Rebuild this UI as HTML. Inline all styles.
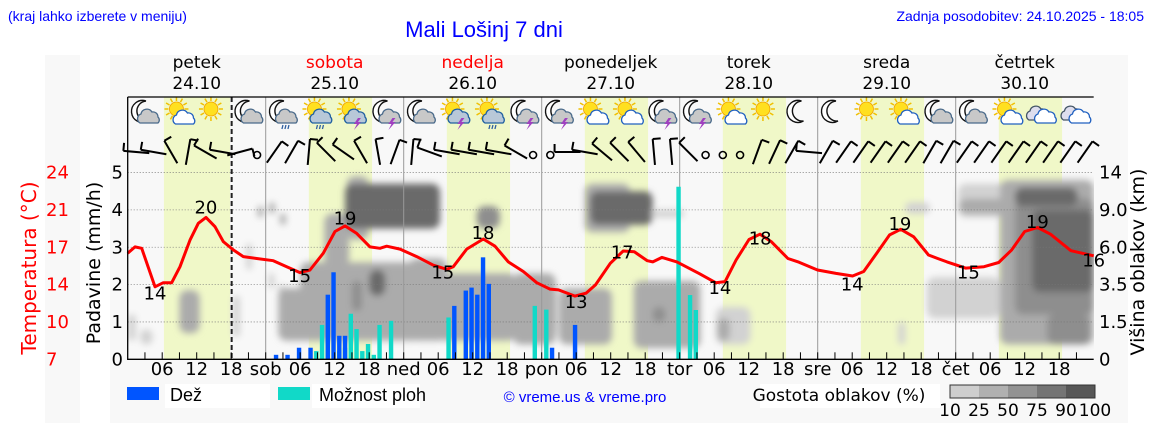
<!DOCTYPE html>
<html><head><meta charset="utf-8">
<style>
html,body{margin:0;padding:0;background:#fff;}
svg{display:block;}
.dv{font-family:"DejaVu Sans","Liberation Sans",sans-serif;}
.ls{font-family:"Liberation Sans",sans-serif;}
</style></head>
<body>
<svg id="chart" width="1152" height="443" viewBox="0 0 1152 443" xmlns="http://www.w3.org/2000/svg">
<defs>
<filter id="soft" x="-20%" y="-20%" width="140%" height="140%"><feGaussianBlur stdDeviation="3.5"/></filter>
<clipPath id="plotclip"><rect x="128" y="97" width="966" height="262"/></clipPath>
</defs>
<rect x="45" y="55" width="35" height="368" fill="#f8f8f8"/>
<rect x="110" y="55" width="1018" height="368" fill="#f8f8f8"/>
<text x="8" y="21" class="ls" font-size="14" fill="#0000ff">(kraj lahko izberete v meniju)</text>
<text x="484" y="37" class="ls" font-size="22" fill="#0000ff" text-anchor="middle">Mali Lošinj 7 dni</text>
<text x="1144" y="21" class="ls" font-size="14" fill="#0000ff" text-anchor="end">Zadnja posodobitev: 24.10.2025 - 18:05</text>
<g id="bg"></g>
<g id="clouds" clip-path="url(#plotclip)"><g id="cloudsInner" filter="url(#soft)"></g></g>
<g id="grid"></g>
<g id="bars"></g>
<g id="temp"></g>
<g id="icons"></g>
<g id="wind"></g>
<g id="axes"></g>
<g id="legend">
<rect x="127" y="387" width="32" height="13" fill="#0055ff"/>
<rect x="165" y="384" width="105" height="24" fill="#fff"/>
<text x="170" y="401" class="ls" font-size="18">Dež</text>
<rect x="278" y="387" width="32" height="13" fill="#11d9c8"/>
<rect x="312" y="384" width="108" height="24" fill="#fff"/>
<text x="319" y="401" class="ls" font-size="18">Možnost ploh</text>
<text x="585" y="402" class="ls" font-size="15" fill="#0000ff" text-anchor="middle">© vreme.us &amp; vreme.pro</text>
<rect x="760" y="384" width="180" height="24" fill="#fff"/>
<text x="839" y="401" class="dv" font-size="17" text-anchor="middle">Gostota oblakov (%)</text>
<g id="cbar"></g>
</g>
</svg>
<script>
const NS="http://www.w3.org/2000/svg";
// ---- data ----
const tempHours=[0,1.27,2.43,4.75,6.2,7.65,9.1,10.83,12.28,13.62,15.18,16.63,18.37,20.1,22.43,25.32,27.65,29.97,31.7,34.02,36.05,37.79,39.83,42.14,43.88,45.04,47.36,50.26,53.15,55.48,56.63,58.96,61.84,63.88,66.19,68.8,71.13,73.44,74.92,77.79,79.7,81.36,83.93,86.17,88.1,90.37,91.32,92.92,95.51,99.36,102.26,103.9,105.8,108.05,109.97,111.91,114.82,116.75,119.97,123.18,126.07,128,130.26,132.5,134.43,136.7,139.27,140.87,142.49,145.7,148.92,151.48,153.74,156,158.24,160.49,164.03,168];
const tempValues=[16.66,17.23,17.1,13.6,13.97,13.97,15.43,17.85,19.38,19.92,19.07,17.71,16.96,16.35,16.18,15.98,15.43,14.89,15.13,16.66,18.63,19.14,18.46,17.23,17.1,17.3,17.03,16.35,15.57,15.19,15.43,17.03,17.95,17.3,15.87,14.99,13.97,13.39,13.32,12.75,13.02,13.77,15.74,16.86,16.79,15.98,15.87,16.28,15.87,14.82,13.97,14.07,16.04,17.91,18.39,17.71,16.18,15.84,15.13,14.82,14.58,14.99,16.66,18.32,18.83,18.15,16.49,16.18,15.87,15.3,15.43,15.81,16.96,18.63,19.0,18.39,16.89,16.42];
const tempLabelText=["14","20","15","19","15","18","13","17","14","18","14","19","15","19","16"];
const tempLabelHours=[4.75,13.6,29.9,37.8,54.8,61.8,78,86,103,110,126,134.3,146.2,158.2,168];
const tempLabelPos=[13.0,20.8,14.6,19.8,14.9,18.5,12.2,16.7,13.5,18.0,13.8,19.3,14.9,19.5,16.0];
const rainHours=[26,28,30,32,35,36,37,38,57,59,60,61,62,63,74,78];
const rainValues=[0.12,0.12,0.31,0.31,1.73,2.33,0.63,0.63,1.43,1.84,1.92,1.73,2.73,2.02,0.31,0.92];
const showerHours=[33,34,35,37,38,39,40,41,42,43,44,46,56,71,73,96,98,99];
const showerValues=[0.22,0.92,0.52,0.22,0.31,1.22,0.81,0.22,0.41,0.12,0.92,1.03,1.12,1.43,1.33,4.62,1.72,1.32];
// cloud cells: start hour, end hour, low (axis units), high, density level
const cloudStart=[0,2.2,9,18.3,22.6,24.6,26.5,20.6,24.5,26.2,26.2,30,34.2,39,42,38.1,37.8,41.8,49,54,60.7,67,68.5,72.5,75,79.5,80.4,91,88,91.3,102.3,102.6,134,135.2,139,144.4,144.6,151.7,154.3,157.3,159.9,154.3];
const cloudEnd=[1.4,4.3,12.5,19.5,23.6,25.6,27.5,21.6,25.5,27.3,35.3,51,38.5,40.7,44.8,41.9,54.3,53.5,55.5,67.5,64.7,74.4,74.5,74.5,84.2,87.4,91.3,96.8,99.6,93.5,108.3,104.7,135.2,139.5,151.7,153.6,153.6,168,168,168,167.3,165.2];
const cloudLow=[0.5,0.4,0.7,0.6,3.8,3.9,3.6,2.4,1.9,1.7,0.5,0.5,2.5,1.3,1.7,3.2,3.5,4.0,0.5,0.5,3.5,0.4,0.6,0.6,0.4,3.4,3.6,3.8,0.3,1.0,0.4,0.5,0.4,3.9,1.1,3.8,3.9,0.4,1.2,1.8,0.4,4.1];
const cloudHigh=[1.2,0.8,1.85,1.7,4.1,4.2,3.9,3.1,2.3,2.0,1.9,2.6,3.9,2.1,2.4,4.9,4.7,4.6,2.7,2.3,4.1,2.3,2.2,1.9,1.9,4.7,4.5,4.0,2.1,1.4,1.4,1.1,1.0,4.2,2.2,4.7,4.3,4.8,4.3,4.0,1.2,4.6];
const cloudLevel=[1,1,2,1,2,2,2,1,1,1,2,2,2,3,4,2,4,4,2,2,3,2,2,2,2,2,4,1,2,3,1,2,1,1,1,1,2,2,3,4,3,4];
const iconTypes=["mc","sc","s","mc","mr","sr","st","mt","mc","st","sr","mt","mt","sc","sc","mt","mt","sc","s","m","m","s","sc","mc","mc","sc","c","c"];
const windAngles=[5,10,60,100,30,10,165,-1,125,120,95,45,35,60,80,110,95,20,10,10,10,10,30,-1,-1,0,10,40,45,50,85,85,45,-1,-1,-1,110,115,120,5,120,125,125,125,125,125,120,120,125,125,125,125,125,125,125,125];
const dayNames=["petek","sobota","nedelja","ponedeljek","torek","sreda","četrtek"];
const dayDates=["24.10","25.10","26.10","27.10","28.10","29.10","30.10"];
const dayShort=["","sob","ned","pon","tor","sre","čet"];
const rainTicks=[0,1,2,3,4,5];
const tempTickLabels=["7","10","14","17","21","24"];
const heightTickLabels=["0","1.5","3.5","6.0","9.0","14"];
const cbarLabels=["10","25","50","75","90","100"];
// ---- scales ----
const X0=127.7,HW=5.75,Y0=359.3,RU=37.35;
const X=h=>X0+h*HW;
const Y=r=>Y0-r*RU;
const TY=t=>Y((t-7)/3.4);
function el(tag,attrs,parent){const e=document.createElementNS(NS,tag);for(const k in attrs)e.setAttribute(k,attrs[k]);parent.appendChild(e);return e;}
function txt(parent,x,y,s,attrs){const e=el("text",Object.assign({x:x,y:y},attrs||{}),parent);e.textContent=s;return e;}
const bg=document.getElementById("bg");
let r0=el("rect",{x:X(0),y:97,width:X(168)-X(0),height:Y0-97,fill:"#f8f8f8"},bg);


for(let d=0;d<7;d++){
  const s=d===0?6.3:7.5, e=d===0?17.8:18.5;
  const b=el("rect",{x:X(d*24+s),y:97,width:(e-s)*HW,height:Y0-97,fill:"#f0f8c8"},bg);
  
  
}
// clouds
const cg=document.getElementById("cloudsInner");
const cloudColors=["","#d2d2d2","#ababab","#8e8e8e","#6a6a6a","#555555"];
for(let i=0;i<cloudStart.length;i++){
  const w=(cloudEnd[i]-cloudStart[i])*HW, h=(cloudHigh[i]-cloudLow[i])*RU;
  const c=el("rect",{x:X(cloudStart[i]),y:Y(cloudHigh[i]),width:w,height:h,rx:Math.min(8,w/2,h/2),fill:cloudColors[cloudLevel[i]]},cg);
  
  
}
// grid
const gg=document.getElementById("grid");
for(let r=1;r<=5;r++){
  const l=el("line",{x1:X(0),x2:X(168),y1:Y(r),y2:Y(r),stroke:"#777","stroke-width":0.8,"stroke-dasharray":"1,2"},gg);
  
  
}
for(let d=1;d<7;d++){
  const l=el("line",{x1:X(d*24),x2:X(d*24),y1:97,y2:Y0,stroke:"#999","stroke-width":1},gg);
  
  
}
const nowL=el("line",{x1:X(18.08),x2:X(18.08),y1:97,y2:Y0,stroke:"#222","stroke-width":2,"stroke-dasharray":"5,3"},gg);


// bars
const bgp=document.getElementById("bars");
for(let i=0;i<showerHours.length;i++){
  const b=el("rect",{x:X(showerHours[i]-0.2)-2.2,y:Y(showerValues[i]),width:4.4,height:showerValues[i]*RU,fill:"#11d9c8"},bgp);
  
  
}
for(let i=0;i<rainHours.length;i++){
  const b=el("rect",{x:X(rainHours[i]-0.2)-2.2,y:Y(rainValues[i]),width:4.4,height:rainValues[i]*RU,fill:"#0055ff"},bgp);
  
  
}
// temperature
const tg=document.getElementById("temp");
let d="";
for(let i=0;i<tempHours.length;i++){d+=(i?"L":"M")+X(tempHours[i]).toFixed(1)+","+TY(tempValues[i]).toFixed(1);}
const tl=el("path",{d:d,fill:"none",stroke:"#ff0000","stroke-width":3,"stroke-linejoin":"round"},tg);


for(let i=0;i<tempLabelText.length;i++){
  const t=txt(tg,X(tempLabelHours[i]),TY(tempLabelPos[i])+6,tempLabelText[i],{"class":"dv","font-size":18,"text-anchor":"middle"});
  
  
}
// icons
const ig=document.getElementById("icons");
function sun(g,cx,cy,r){for(let a=0;a<12;a++){const an=a*Math.PI/6;el("line",{x1:cx+Math.cos(an)*(r+1),y1:cy+Math.sin(an)*(r+1),x2:cx+Math.cos(an)*(r+5),y2:cy+Math.sin(an)*(r+5),stroke:"#f0c000","stroke-width":1.5},g);}el("circle",{cx:cx,cy:cy,r:r,fill:"#ffe020",stroke:"#f0a000","stroke-width":0.8},g);}
function moon(g,cx,cy){el("path",{d:`M${cx+4},${cy-11} A11,11 0 1,0 ${cx+6},${cy+9} A9,9 0 1,1 ${cx+4},${cy-11}Z`,fill:"#fff",stroke:"#111","stroke-width":1.4},g);}
function cloud(g,cx,cy,fill,stroke){el("path",{d:`M${cx-9},${cy+6} a5,5 0 0,1 1,-9 a6,6 0 0,1 11,-2 a5,5 0 0,1 6,5 a4,4 0 0,1 0,6 z`,fill:fill,stroke:stroke,"stroke-width":1.3},g);}
for(let i=0;i<iconTypes.length;i++){
  const cx=X(3+6*i), cy=112, t=iconTypes[i];
  const g=el("g",{},ig);
  
  
  if(t[0]==="m"){moon(g,cx-3,cy);} else if(t[0]==="s"){sun(g,cx-3,cy-3,7);}
  if(t==="mc"||t==="mr"||t==="mt"){cloud(g,cx+4,cy+5,"#c8c8c8","#4a6a8a");}
  if(t==="sc"){cloud(g,cx+5,cy+6,"#fff","#2060c0");}
  if(t==="sr"||t==="st"){cloud(g,cx+4,cy+5,"#b8c8d8","#2060a0");}
  if(t==="c"){cloud(g,cx-4,cy+2,"#dde","#456");cloud(g,cx+4,cy+5,"#fff","#2060c0");}
  if(t==="mr"||t==="sr"){for(let k=0;k<3;k++)el("line",{x1:cx+k*3,y1:cy+13,x2:cx-1+k*3,y2:cy+17,stroke:"#3060a0","stroke-width":1.3},g);}
  if(t==="mt"||t==="st"){el("path",{d:`M${cx+6},${cy+6} l-4,6 h3 l-3,6 l7,-8 h-3 l3,-4z`,fill:"#a040c0"},g);}
}
// wind barbs
const wg=document.getElementById("wind");
for(let i=0;i<windAngles.length;i++){
  const cx=X(3*i+1.5), cy=152, a=windAngles[i];
  const g=el("g",{},wg);
  
  
  if(a<0){el("circle",{cx:cx,cy:cy+3,r:3.5,fill:"none",stroke:"#000","stroke-width":1.6},g);continue;}
  const rad=a*Math.PI/180, L=13, dx=Math.cos(rad)*L, dy=Math.sin(rad)*L;
  el("line",{x1:cx-dx,y1:cy-dy,x2:cx+dx,y2:cy+dy,stroke:"#000","stroke-width":2},g);
  el("line",{x1:cx-dx,y1:cy-dy,x2:cx-dx+Math.sin(rad)*8,y2:cy-dy-Math.cos(rad)*8,stroke:"#000","stroke-width":2},g);
}
// axes
const ag=document.getElementById("axes");
let fr=el("path",{d:`M${X(0)},97 V${Y0} H${X(168)} M${X(0)},97 H${X(168)}`,fill:"none",stroke:"#000","stroke-width":1.3},ag);


for(let h=3;h<168;h+=3){
  const l=el("line",{x1:X(h),x2:X(h),y1:Y0-7,y2:Y0,stroke:"#000","stroke-width":1},ag);
  
  
}
for(let dd=0;dd<7;dd++){
  for(const h of [6,12,18]){
    const t=txt(ag,X(dd*24+h),375,(h<10?"0":"")+h,{"class":"dv","font-size":18,"text-anchor":"middle"});
    
    
  }
  if(dd>0){const t=txt(ag,X(dd*24),375,dayShort[dd],{"class":"dv","font-size":18,"text-anchor":"middle"});
    
    }
  const n=txt(ag,X(dd*24+12),68,dayNames[dd],{"class":"dv","font-size":17,"text-anchor":"middle",fill:(dd===1||dd===2)?"#ff0000":"#000"});
  
  
  const dt=txt(ag,X(dd*24+12),89,dayDates[dd],{"class":"dv","font-size":17,"text-anchor":"middle"});
  
  
}
for(let i=0;i<rainTicks.length;i++){
  const y=Y(rainTicks[i]);
  const a=txt(ag,123,y+6,String(rainTicks[i]),{"class":"dv","font-size":18,"text-anchor":"end"});
  
  
  const b=txt(ag,46,y+6,tempTickLabels[i],{"class":"dv","font-size":18,fill:"#ff0000"});
  
  
  const c=txt(ag,1099,y+6,heightTickLabels[i],{"class":"dv","font-size":18});
  
  
}
const yl=txt(ag,0,0,"Padavine (mm/h)",{"class":"dv","font-size":19,"text-anchor":"middle",transform:"translate(100,263) rotate(-90)"});


const tt=txt(ag,0,0,"Temperatura (°C)",{"class":"dv","font-size":20,"text-anchor":"middle",fill:"#ff0000",transform:"translate(36,268) rotate(-90)"});


const rt=txt(ag,0,0,"Višina oblakov (km)",{"class":"dv","font-size":19,"text-anchor":"middle",transform:"translate(1144,262) rotate(-90)"});


// colorbar
const cb=document.getElementById("cbar");
const cbCols=["#cecece","#b0b0b0","#929292","#747474","#575757"];
for(let i=0;i<5;i++){
  const r=el("rect",{x:950+i*29,y:385,width:29,height:13,fill:cbCols[i]},cb);
  
  
}
el("rect",{x:950,y:385,width:145,height:13,fill:"none",stroke:"#333","stroke-width":1},cb);
for(let i=0;i<6;i++){
  const t=txt(cb,950+i*29,416,cbarLabels[i],{"class":"dv","font-size":17,"text-anchor":"middle"});
  
  
}
</script>
</body></html>
